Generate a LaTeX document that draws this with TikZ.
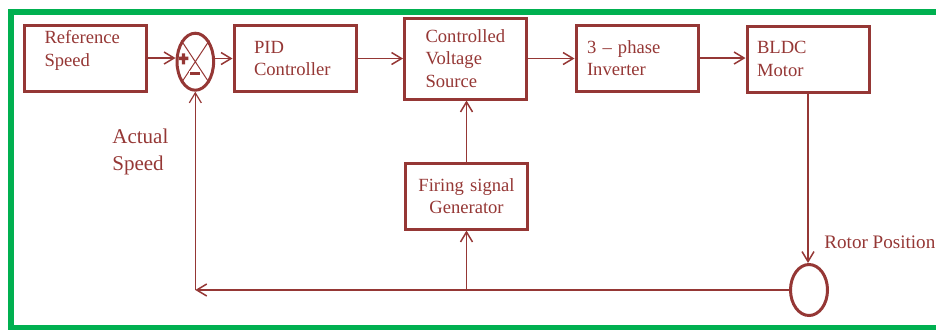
\documentclass[tikz,border=0pt]{standalone}
\usepackage{fontspec}
\setmainfont{Liberation Serif}
\usepackage{tikz}
\usetikzlibrary{shapes.geometric,arrows.meta}
\definecolor{blockred}{HTML}{953735}
\definecolor{framegreen}{HTML}{00B050}
\tikzset{
	block/.style={draw=blockred, line width=1.5pt, text=blockred, inner sep=0pt, align=left,
		font=\fontsize{9.3}{11.3}\selectfont, minimum width=61pt, minimum height=33pt},
	wire/.style={draw=blockred, line width=0.75pt},
	junction/.style={ellipse, draw=blockred, line width=1.5pt, inner sep=0pt},
	plain/.style={text=blockred, inner sep=0pt}
}
\begin{document}
\begin{tikzpicture}[x=0.5pt, y=-0.5pt, >={Straight Barb[length=5pt,width=6pt]}]
		\useasboundingbox (0,0) rectangle (936,329);
		%Frame
		\draw[framegreen, line width=2.75pt] (936,12) -- (10.8,12) -- (10.8,328) -- (936,328);
		
		%Blocks
		\node[block, text width=41pt] (ref) at (85.5,58) {\raisebox{1.6pt}[0pt][0pt]{Reference}\\\raisebox{1.6pt}[0pt][0pt]{Speed}};
		\node[block, text width=41pt] (pid) at (295,58.5) {PID\\Controller};
		\node[block, text width=40pt, minimum height=40.5pt] (cvs) at (465.5,58.5) {Controlled\\Voltage\\Source};
		\node[block, text width=50pt] (inv) at (637,58) {3 – phase\\Inverter};
		\node[block, text width=51pt] (bldc) at (808,59) {BLDC\\Motor};
		\node[block, text width=55pt, align=center] (fire) at (466.5,196) {Firing signal\\Generator};
		
		%Summing point
		\node[junction, minimum width=18.3pt, minimum height=28.5pt] (sum) at (195.3,61.7) {};
		\draw[blockred, line width=0.5pt] (sum.north west) -- (sum.south east) (sum.north east) -- (sum.south west);
		\fill[blockred] (178.7,56.6) rectangle (188.3,60) (181.8,53.3) rectangle (185.2,64.3);
		\filldraw[fill=blockred, draw=white, line width=0.3pt] (189.5,70.8) rectangle (200.7,75.5);
		
		%Rotor position sensor
		\node[junction, minimum width=18.5pt, minimum height=25.5pt] (rotor) at (809,290) {};
		\coordinate (fbk) at (195.3,290);
		
		%Forward path
		\draw[wire,->] (ref.east) -- (ref.east -| sum.west);
		\draw[wire,->] (sum.east |- pid.west) -- (pid.west);
		\draw[wire,->] (pid.east) -- (cvs.west);
		\draw[wire,->] (cvs.east) -- (cvs.east -| inv.west);
		\draw[wire,->] (inv.east) -- (inv.east -| bldc.west);
		\draw[wire,->] (bldc.south) -- (bldc.south |- rotor.north);
		
		%Feedback path
		\draw[wire,->] (rotor.west) -- (fbk);
		\draw[wire,line width=0.6pt,->] (fbk) -- (sum.south);
		\draw[wire,->] (fire.south |- fbk) -- (fire.south);
		\draw[wire,->] (fire.north) -- (fire.north |- cvs.south);
		
		%Labels
		\node[plain, anchor=north west, align=left, font=\fontsize{10.5}{13.5}\selectfont] (actual) at (112,129) {Actual\\Speed};
		\node[plain, anchor=base west, font=\fontsize{9.55}{11}\selectfont] (rotorlbl) at (824,248) {Rotor Position};
	\end{tikzpicture}
\end{document}
